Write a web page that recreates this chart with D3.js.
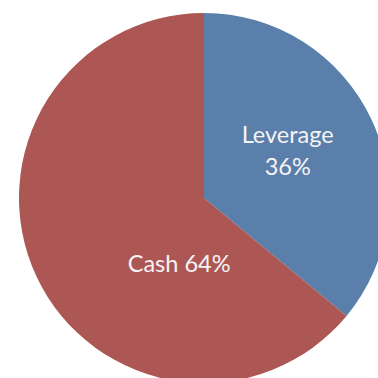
<!DOCTYPE html>
<html>
<head>
<meta charset="utf-8">
<script src="https://cdn.jsdelivr.net/npm/d3@7"></script>
<style>
  html, body { margin: 0; padding: 0; background: #fff; }
  svg { display: block; }
  text { font-family: Lato, "Open Sans", sans-serif; }
</style>
</head>
<body>
<svg id="chart" width="378" height="378"></svg>
<script>
// Share of positions by funding source
const categories = ["Leverage", "Cash"];
const shares = [36, 64];
const labelLines = [["Leverage", "36%"], ["Cash 64%"]];
const colors = ["#5a7fab", "#ad5755"];

const svg = d3.select("#chart");
const cx = 204, cy = 198, radius = 185;

const g = svg.append("g").attr("transform", `translate(${cx},${cy})`);

const pie = d3.pie().sort(null).value(d => d.value);
const data = pie(categories.map((c, i) => ({ name: c, value: shares[i], lines: labelLines[i], color: colors[i] })));

const arc = d3.arc().innerRadius(0).outerRadius(radius);

g.selectAll("path.slice")
  .data(data)
  .join("path")
  .attr("class", "slice")
  .attr("d", arc)
  .attr("fill", d => d.data.color);

// Label anchors: the smaller slice uses its centroid, the larger one sits
// lower, toward the centre of the pie
const labelArc = d3.arc().innerRadius(0).outerRadius(radius);
function labelPos(d, i) {
  if (i === 0) return labelArc.centroid(d);
  const a = (d.startAngle + d.endAngle) / 2 - 0.805;
  const r = radius * 0.42;
  return [Math.sin(a) * r, -Math.cos(a) * r];
}

const fontSize = 23.5, lineGap = 32;
data.forEach((d, i) => {
  const [x, y] = labelPos(d, i);
  const lines = d.data.lines;
  const t = g.append("text")
    .attr("text-anchor", "middle")
    .attr("fill", "#f5f3f3")
    .attr("font-size", fontSize);
  lines.forEach((ln, k) => {
    t.append("tspan")
      .attr("x", x)
      .attr("y", y + (k - (lines.length - 1) / 2) * lineGap)
      .text(ln);
  });
});
</script>
</body>
</html>
